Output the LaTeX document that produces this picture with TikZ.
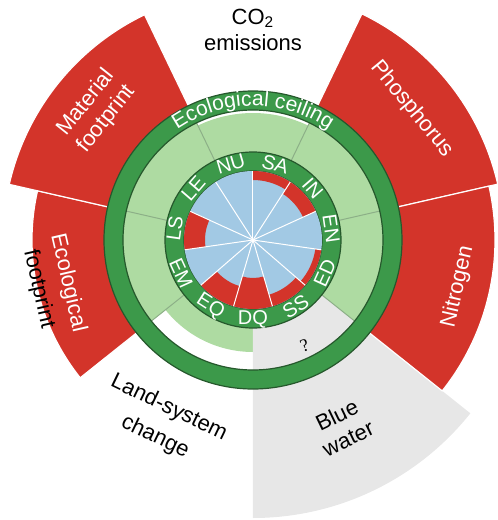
\documentclass[tikz,border=0pt]{standalone}
\usepackage{fontspec}
\setmainfont{Liberation Sans}
\newfontfamily\qmarkfont{Liberation Serif}
\usetikzlibrary{decorations.text}

\definecolor{ceilgreen}{RGB}{60,153,74}
\definecolor{ringedge}{RGB}{38,88,44}
\definecolor{safegreen}{RGB}{174,219,162}
\definecolor{splitgreen}{RGB}{140,175,135}
\definecolor{overred}{RGB}{211,52,42}
\definecolor{basisblue}{RGB}{162,201,228}
\definecolor{unknowngrey}{RGB}{231,231,231}

\begin{document}
\begin{tikzpicture}[x=0.5pt, y=0.5pt,
    biglabel/.style={font=\fontsize{11}{13}\selectfont, align=center, inner sep=0pt},
    socialtag/.style={font=\fontsize{10}{11}\selectfont, text=white, inner sep=0pt},
    ringband/.style={fill=ceilgreen, draw=ringedge, line width=0.6pt, even odd rule},
    spoke/.style={draw=white, line width=0.5pt},
    divider/.style={draw=splitgreen, line width=0.5pt}]
    \useasboundingbox (-253,-280) rectangle (245,240);

    % planetary sectors inside the ceiling
    \foreach \a/\b/\r in {64.29/115.71/127, 12.86/64.29/130, -38.57/12.86/130,
        -141.43/-90/112, -192.86/-141.43/130, 115.71/167.14/130}
        \fill[safegreen] (\a:88) arc[start angle=\a, end angle=\b, radius=88]
            -- (\b:\r) arc[start angle=\b, end angle=\a, radius=\r] -- cycle;
    \fill[unknowngrey] (-90:88) arc[start angle=-90, end angle=-38.57, radius=88]
        -- (-38.57:278) arc[start angle=-38.57, end angle=-90, radius=278] -- cycle;
    \foreach \a in {115.71, 64.29, 12.86, -38.57, -141.43, 167.14}
        \draw[divider] (\a:88) -- (\a:130);

    % overshoot wedges
    \foreach \a/\b/\r in {12.86/64.29/251, -38.57/12.86/242,
        167.14/218.57/221, 115.71/167.14/250}
        \filldraw[fill=overred, draw=white, line width=0.6pt] (\a:140) arc[start angle=\a, end angle=\b, radius=140]
            -- (\b:\r) arc[start angle=\b, end angle=\a, radius=\r] -- cycle;

    % ecological ceiling
    \path[ringband] (0,0) circle[radius=149] (0,0) circle[radius=130];
    \path[decorate, decoration={text along path, text align=center, text color=white,
        text={|\fontsize{10.5}{12}\selectfont|Ecological ceiling}}]
        (160:134) arc[start angle=160, end angle=20, radius=134];

    % social foundation
    \path[ringband] (0,0) circle[radius=88] (0,0) circle[radius=69];
    \fill[basisblue] (0,0) circle[radius=69];
    \foreach \a/\b/\r in {57.27/90/60, 24.55/57.27/55, -40.91/-8.18/63, -73.64/-40.91/57,
        -106.36/-73.64/38, -139.09/-106.36/48, 155.45/188.18/48}
        \fill[overred] (\a:\r) arc[start angle=\a, end angle=\b, radius=\r]
            -- (\b:69) arc[start angle=\b, end angle=\a, radius=69] -- cycle;
    \foreach \i in {0,...,10}
        \draw[spoke] (0,0) -- ({90-\i*32.727}:69);
    \foreach \lab/\ang/\rot in {NU/106.36/16.36, SA/73.64/-16.36, IN/40.91/-49.09,
        EN/8.18/-81.82, ED/-24.55/65.45, SS/-57.27/32.73, DQ/-90/0, EQ/-122.73/-32.73,
        EM/-155.45/-65.45, LS/171.82/81.82, LE/139.09/49.09}
        \node[socialtag, rotate=\rot] (\lab) at (\ang:79) {\lab};

    % boundary labels
    \node[biglabel] (co2) at (0,210) {CO\textsubscript{2}\\emissions};
    \node[biglabel, text=white, rotate=-50.5] (phosphorus) at (39.5:206) {Phosphorus};
    \node[biglabel, text=white, rotate=77.14] (nitrogen) at (-12.86:210) {Nitrogen};
    \node[biglabel, rotate=25.71] (bluewater) at (-64.4:207) {Blue\\water};
    \node[font=\qmarkfont\fontsize{9}{10}\selectfont, rotate=20] (unknown) at (-64:118) {?};
    \node[biglabel, rotate=-25.71] (landsystem) at (-116.5:204) {Land-system\\[3pt]change};
    \node[biglabel, rotate=-77.14] (ecofoot) at (-167:205) {\textcolor{white}{Ecological}\\[2pt]footprint};
    \node[biglabel, text=white, rotate=51.43] (material) at (140.5:203) {Material\\footprint};
\end{tikzpicture}
\end{document}
